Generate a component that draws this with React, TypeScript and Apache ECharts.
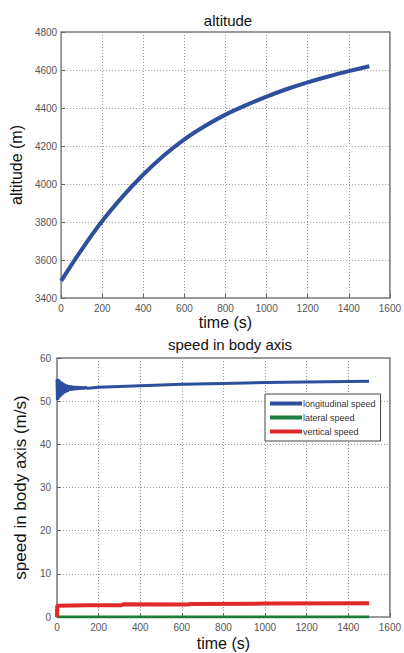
import React, { useEffect, useRef } from "react";
import * as echarts from "echarts";

// altitude vs time
const altTime = [0, 100, 200, 300, 400, 500, 600, 700, 800, 900, 1000, 1100, 1200, 1300, 1400, 1500];
const altValue = [3490, 3655, 3805, 3935, 4050, 4150, 4235, 4305, 4365, 4415, 4460, 4500, 4535, 4566, 4594, 4620];

// longitudinal speed (oscillating at start)
const lonTime = [0, 2, 4, 6, 8, 10, 12, 15, 18, 21, 24, 27, 30, 34, 38, 42, 46, 50, 55, 60, 65, 70, 76, 82, 88, 95, 102, 110, 118, 126, 135, 145, 160, 200, 300, 400, 600, 800, 1000, 1200, 1400, 1500];
const lonValue = [55, 50.3, 55.2, 50.5, 55, 50.8, 54.8, 51, 54.6, 51.3, 54.4, 51.5, 54.2, 51.8, 54, 52, 53.8, 52.2, 53.7, 52.4, 53.6, 52.5, 53.5, 52.6, 53.4, 52.7, 53.4, 52.8, 53.3, 52.9, 53.2, 53.0, 53.05, 53.2, 53.4, 53.6, 53.9, 54.1, 54.3, 54.45, 54.55, 54.6];

// lateral speed
const latTime = [0, 1500];
const latValue = [0, 0];

// vertical speed
const vertTime = [0, 1, 150, 310, 320, 630, 640, 1000, 1500];
const vertValue = [0, 2.6, 2.7, 2.75, 2.95, 2.9, 3.0, 3.1, 3.2];

const xTicks = [0, 1600, 200];
const altTicks = [3400, 4800, 200];
const spdTicks = [0, 60, 10];

const pairs = (xs: number[], ys: number[]) => xs.map((x, i) => [x, ys[i]]);

const FONT = "Liberation Sans";

export default function App() {
  const ref = useRef<HTMLDivElement>(null);
  useEffect(() => {
    if (!ref.current) return;
    const chart = echarts.init(ref.current, null, { renderer: "svg" });
    const gridBorder = "#7a7a7a";
    const splitLine = { show: true, lineStyle: { color: "#9a9a9a", type: [1, 2] as any, width: 1 } };
    const axisTick = { show: true, inside: true, length: 4, lineStyle: { color: "#666", width: 1 } };
    const axisLabel = { color: "#555", fontSize: 10, fontFamily: FONT, formatter: (v: number) => String(v) };
    const nameStyle = { color: "#111", fontSize: 16, fontFamily: FONT };
    chart.setOption({
      animation: false,
      backgroundColor: "#fff",
      title: [
        { text: "altitude", left: 223, top: 8, textAlign: "center", textStyle: { fontSize: 15, fontWeight: "normal", color: "#111", fontFamily: FONT } },
        { text: "speed in body axis", left: 225, top: 332, textAlign: "center", textStyle: { fontSize: 15, fontWeight: "normal", color: "#111", fontFamily: FONT } },
      ],
      grid: [
        { left: 55, top: 32, width: 337, height: 266, show: true, borderColor: gridBorder, borderWidth: 1.5, backgroundColor: "#fff" },
        { left: 57, top: 358, width: 336, height: 259, show: true, borderColor: gridBorder, borderWidth: 1.5, backgroundColor: "#fff" },
      ],
      legend: {
        left: 265,
        top: 394,
        orient: "vertical",
        data: ["longitudinal speed", "lateral speed", "vertical speed"],
        icon: "rect",
        itemWidth: 32,
        itemHeight: 4,
        itemGap: 5,
        padding: [5, 5, 5, 5],
        borderColor: "#444",
        borderWidth: 1,
        backgroundColor: "#fff",
        textStyle: { fontSize: 9, color: "#333", fontFamily: FONT, padding: [0, 0, 0, -4] },
      },
      xAxis: [
        {
          gridIndex: 0, type: "value", min: xTicks[0], max: xTicks[1], interval: xTicks[2],
          name: "time (s)", nameLocation: "middle", nameGap: 16, nameTextStyle: nameStyle,
          axisLine: { show: false }, axisTick, axisLabel: { ...axisLabel, margin: 5 }, splitLine,
        },
        {
          gridIndex: 1, type: "value", min: xTicks[0], max: xTicks[1], interval: xTicks[2],
          name: "time (s)", nameLocation: "middle", nameGap: 18, nameTextStyle: nameStyle,
          axisLine: { show: false }, axisTick, axisLabel: { ...axisLabel, margin: 5 }, splitLine,
        },
      ],
      yAxis: [
        {
          gridIndex: 0, type: "value", min: altTicks[0], max: altTicks[1], interval: altTicks[2],
          name: "altitude (m)", nameLocation: "middle", nameGap: 31, nameTextStyle: nameStyle,
          axisLine: { show: false }, axisTick, axisLabel: { ...axisLabel, margin: 4 }, splitLine,
        },
        {
          gridIndex: 1, type: "value", min: spdTicks[0], max: spdTicks[1], interval: spdTicks[2],
          name: "speed in body axis (m/s)", nameLocation: "middle", nameGap: 19, nameTextStyle: { ...nameStyle, fontSize: 17 },
          axisLine: { show: false }, axisTick, axisLabel: { ...axisLabel, margin: 6 }, splitLine,
        },
      ],
      series: [
        {
          type: "line", xAxisIndex: 0, yAxisIndex: 0, data: pairs(altTime, altValue), smooth: 0.3,
          showSymbol: false, lineStyle: { color: "#2d4f9e", width: 4 }, itemStyle: { color: "#2d4f9e" },
        },
        {
          name: "longitudinal speed", type: "line", xAxisIndex: 1, yAxisIndex: 1, data: pairs(lonTime, lonValue),
          showSymbol: false, lineStyle: { color: "#2d4f9e", width: 3 }, itemStyle: { color: "#2d4f9e" },
        },
        {
          name: "lateral speed", type: "line", xAxisIndex: 1, yAxisIndex: 1, data: pairs(latTime, latValue),
          showSymbol: false, lineStyle: { color: "#1e7d3a", width: 3 }, itemStyle: { color: "#1e7d3a" },
        },
        {
          name: "vertical speed", type: "line", xAxisIndex: 1, yAxisIndex: 1, data: pairs(vertTime, vertValue),
          showSymbol: false, lineStyle: { color: "#e02a2a", width: 4 }, itemStyle: { color: "#e02a2a" },
        },
      ],
    });
    return () => chart.dispose();
  }, []);
  return <div ref={ref} style={{ position: "fixed", left: 0, top: 0, width: 404, height: 653 }} />;
}
